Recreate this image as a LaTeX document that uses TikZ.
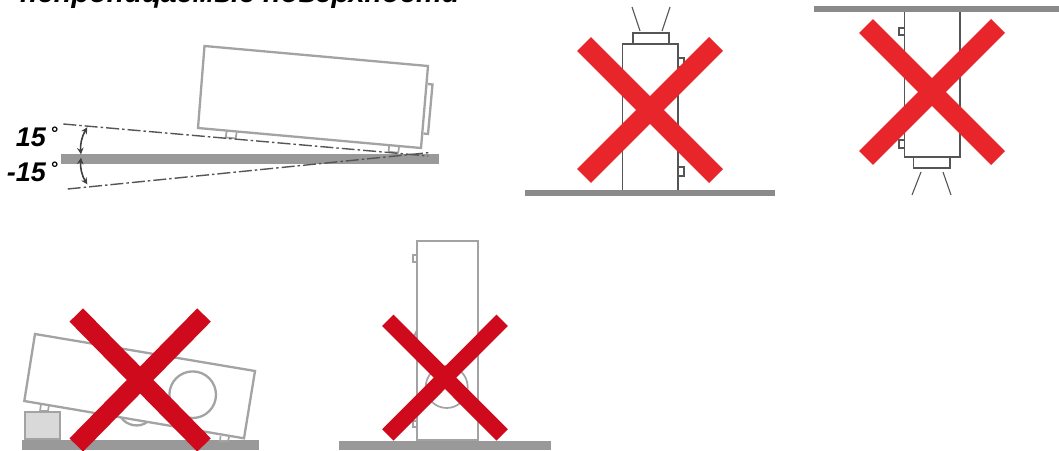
\documentclass[tikz,border=0pt]{standalone}
\usepackage{fontspec}
\setmainfont{Liberation Sans}
\usetikzlibrary{arrows.meta}
\definecolor{softgray}{HTML}{A3A3A3}
\definecolor{slab}{HTML}{999999}
\definecolor{slabb}{HTML}{8A8A8A}
\definecolor{crossa}{HTML}{E9252C}
\definecolor{crossb}{HTML}{CF0A1C}
\definecolor{thin}{HTML}{555555}
\tikzset{
  soft/.style={draw=softgray,line width=2.3pt,fill=white,line join=miter},
  softer/.style={draw=softgray,line width=1.7pt,fill=white},
  sharp/.style={draw=thin,line width=1.2pt,fill=white},
  ray/.style={draw=thin,line width=1.1pt},
  axis/.style={draw=thin,line width=1.4pt,dash pattern=on 13pt off 3pt on 2.5pt off 3pt},
  bend arrow/.style={draw=black!75,line width=1.6pt,{Stealth[length=6.5pt,width=6.5pt]}-{Stealth[length=6.5pt,width=6.5pt]}},
  crossA/.style={draw=crossa,line width=19.5pt},
  crossB/.style={draw=crossb,line width=19pt},
  crossC/.style={draw=crossb,line width=16pt},
  lab/.style={font=\fontsize{27}{27}\selectfont\bfseries\itshape,inner sep=0pt,anchor=base east},
  deg/.style={font=\fontsize{18}{18}\selectfont\bfseries\itshape,inner sep=0pt,anchor=base}
}
\begin{document}
\begin{tikzpicture}[x=1pt,y=-1pt]
\useasboundingbox (0,0) rectangle (1059,450);
\fill[white] (0,0) rectangle (1059,450);
% cropped heading
\node[font=\fontsize{29}{29}\selectfont\bfseries\itshape,inner sep=0pt,anchor=base west] (head) at (20,2.5) {непроницаемые поверхности};
% tilted projector with limits
\fill[slab] (61,154.3) rectangle (438.7,164.3);
\draw[soft] (428,84) -- (432.5,84.5) -- (428,134) -- (423.5,133.5);
\draw[softer] (226.7,131) -- (225.7,137.5) -- (235.7,138.3) -- (236.7,132);
\draw[softer] (389,146) -- (388.7,151.7) -- (398.3,152.7) -- (399,147);
\draw[soft] (204.5,46) -- (428,66) -- (421,148) -- (198,128) -- cycle;
\draw[axis] (63.3,124) -- (428.3,156);
\draw[axis] (67.7,189) -- (428.3,152.7);
\draw[bend arrow] (87.3,127.3) .. controls (82,136) and (80,145) .. (81,154.3);
\draw[bend arrow] (81,157.7) .. controls (80,167) and (82,176) .. (87.3,184.3);
\node[lab] (a) at (46,146) {15};
\node[deg] (ad) at (54,139) {°};
\node[lab] (b) at (46,181) {-15};
\node[deg] (bd) at (54,174) {°};
% upright projector on floor
\fill[slabb] (525,190) rectangle (775,196);
\draw[sharp] (633,44) -- (633,33) -- (669,33) -- (669,44);
\draw[sharp] (678,58) -- (684,58) -- (684,67) -- (678,67);
\draw[sharp] (678,167) -- (684,167) -- (684,176) -- (678,176);
\draw[sharp] (622.5,190) -- (622.5,44) -- (678,44) -- (678,190);
\draw[ray] (632,7) -- (640,31);
\draw[ray] (670,7) -- (662,31);
\draw[crossA] (584,44) -- (716,176);
\draw[crossA] (716,44) -- (584,176);
% hanging projector
\fill[slabb] (814,6) rectangle (1059,12);
\draw[sharp] (913.5,157) -- (913.5,168) -- (950,168) -- (950,157);
\draw[sharp] (904.5,28) -- (899,28) -- (899,35) -- (904.5,35);
\draw[sharp] (904.5,140) -- (899,140) -- (899,148) -- (904.5,148);
\draw[sharp] (904.5,12) -- (904.5,157) -- (960,157) -- (960,12);
\draw[ray] (921,172) -- (912,195);
\draw[ray] (943,172) -- (951,195);
\draw[crossA] (866,26) -- (998,158);
\draw[crossA] (998,26) -- (866,158);
% propped projector
\fill[slab] (21.7,440) rectangle (259,450);
\draw[soft,fill=black!15] (25,411.7) rectangle (60,439.3);
\draw[softer] (41,404) -- (40,411) -- (48,411) -- (49,405);
\draw[softer] (220.5,436) -- (220,441) -- (228,441) -- (229,437);
\draw[soft] (121,417) .. controls (126,426) and (140,428) .. (147,422);
\draw[soft] (35,334) -- (255,371) -- (244,438.3) -- (24.3,401) -- cycle;
\draw[soft] (192.7,394.7) circle[radius=23.3];
\draw[crossB] (76.3,315) -- (204,445);
\draw[crossB] (204,315) -- (76.3,445);
% projector on end
\fill[slab] (339,441) rectangle (551,450);
\draw[softer] (417.3,255) -- (413.3,255) -- (413.3,262) -- (417.3,262);
\draw[softer] (417,421) -- (412.7,421) -- (412.7,427) -- (417,427);
\draw[softer] (417.3,330) .. controls (413,335) and (413,345) .. (417.3,355);
\draw[soft] (417.3,240.7) rectangle (478,440);
\draw[softer] (446.7,387) circle[radius=21];
\draw[crossC] (387.8,320.3) -- (502.2,435);
\draw[crossC] (502.2,320.3) -- (387.8,435);
\end{tikzpicture}
\end{document}
